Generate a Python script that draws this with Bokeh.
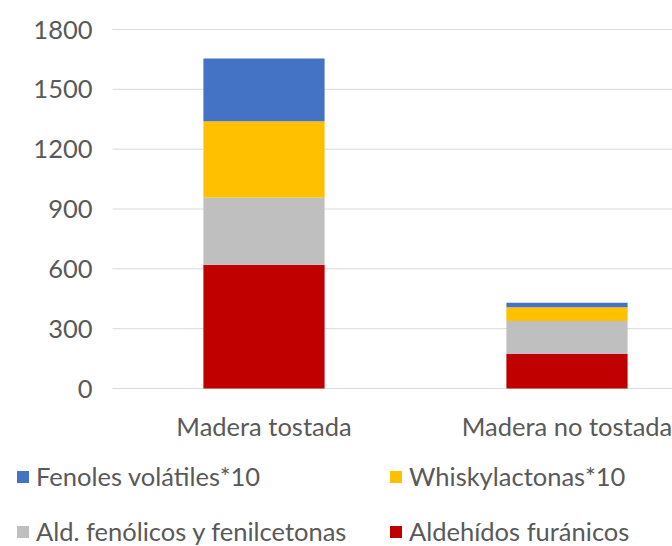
from bokeh.plotting import figure
from bokeh.models import Legend, LegendItem, ColumnDataSource
from bokeh.core.properties import value
from bokeh.embed import file_html
from bokeh.resources import INLINE

categories = ["Madera tostada", "Madera no tostada"]
aldehidos_furanicos = [620, 173]
ald_fenolicos = [338, 165]
whiskylactonas = [382, 70]
fenoles_volatiles = [315, 22]
y_ticks = [0, 300, 600, 900, 1200, 1500, 1800]

stack_names = ["furanicos", "fenolicos", "whisky", "fenoles"]
stack_labels = ["Aldehídos furánicos", "Ald. fenólicos y fenilcetonas",
                "Whiskylactonas*10", "Fenoles volátiles*10"]
colors = ["#C00000", "#BFBFBF", "#FFC000", "#4472C4"]

xpos = [i + 0.5 for i in range(len(categories))]
source = ColumnDataSource(dict(x=xpos, furanicos=aldehidos_furanicos,
                               fenolicos=ald_fenolicos, whisky=whiskylactonas,
                               fenoles=fenoles_volatiles))

FONT = "Lato"
TXT = "#595959"
FS = "25.5px"

# page geometry (pixels): plot area spans x 112..672+, y 29..388
W, H = 672, 546
LEFT, TOP, BOTTOM = 112, 29, 388
CAT_PX = 303
YMAX = y_ticks[-1]
per_px = YMAX / (BOTTOM - TOP)
x_start = -LEFT / CAT_PX
x_end = (W - LEFT) / CAT_PX
y_start = -(H - BOTTOM) * per_px
y_end = YMAX + TOP * per_px

p = figure(width=W, height=H, x_range=(x_start, x_end), y_range=(y_start, y_end),
           x_axis_location=None, y_axis_location=None,
           min_border_left=0, min_border_right=0, min_border_top=0,
           min_border_bottom=0, output_backend="svg", toolbar_location=None)
p.outline_line_color = None
p.grid.visible = False
p.xgrid.grid_line_color = None
p.ygrid.grid_line_color = None

# horizontal gridlines at the value ticks, across the plot area
grid_src = ColumnDataSource(dict(y=y_ticks, x0=[0] * len(y_ticks),
                                 x1=[x_end] * len(y_ticks),
                                 lab=[str(t) for t in y_ticks]))
p.segment(x0="x0", y0="y", x1="x1", y1="y", source=grid_src,
          line_color="#D9D9D9", line_width=1)

renderers = p.vbar_stack(stack_names, x="x", width=0.4, source=source,
                         color=colors, line_color=None)

# value tick labels
p.text(x="x0", y="y", text="lab", source=grid_src, x_offset=-20,
       text_align="right", text_baseline="middle", text_font=value(FONT),
       text_font_size=value(FS), text_color=TXT)

# category labels
cat_src = ColumnDataSource(dict(x=xpos, y=[0] * len(xpos), t=categories))
p.text(x="x", y="y", text="t", source=cat_src, y_offset=37,
       text_align="center", text_baseline="middle", text_font=value(FONT),
       text_font_size=value(FS), text_color=TXT)

# legend in two columns below the plot area
legend_columns = [([3, 1], (15, 0)), ([2, 0], (388, 0))]
for idxs, loc in legend_columns:
    leg = Legend(items=[LegendItem(label=stack_labels[i], renderers=[renderers[i]])
                        for i in idxs],
                 orientation="vertical", location=loc, padding=0, margin=0,
                 spacing=25, glyph_width=15, glyph_height=15, label_standoff=6,
                 label_text_font=FONT, label_text_font_size=FS,
                 label_text_color=TXT, border_line_color=None,
                 background_fill_alpha=0)
    p.add_layout(leg, "center")

open("out.html", "w").write(file_html(p, INLINE))
